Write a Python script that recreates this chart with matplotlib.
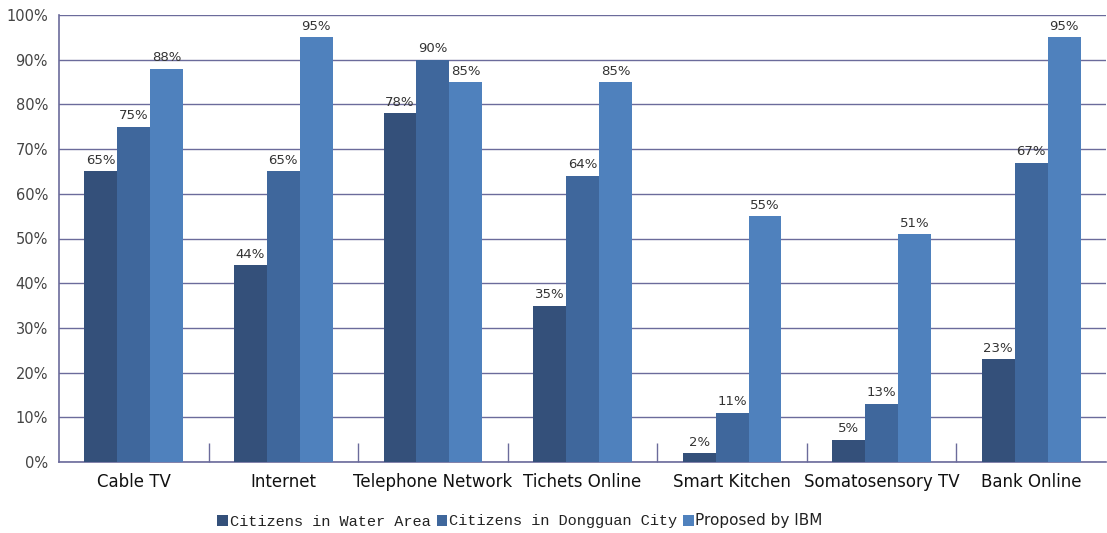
import matplotlib
matplotlib.use("Agg")
import matplotlib.pyplot as plt
import numpy as np

categories = ["Cable TV", "Internet", "Telephone Network", "Tichets Online",
              "Smart Kitchen", "Somatosensory TV", "Bank Online"]
series_names = ["Citizens in Water Area", "Citizens in Dongguan City", "Proposed by IBM"]
water = [65, 44, 78, 35, 2, 5, 23]
dongguan = [75, 65, 90, 64, 11, 13, 67]
ibm = [88, 95, 85, 85, 55, 51, 95]
yticks = [0, 10, 20, 30, 40, 50, 60, 70, 80, 90, 100]

colors = ["#34507a", "#3f679c", "#4f81bd"]
grid_c = "#6b6b9b"

fig = plt.figure(figsize=(11.07, 5.33), dpi=100)
ax = fig.add_axes([59/1107, 1 - 462/533, 1047/1107, (462 - 15)/533])

x = np.arange(len(categories))
w = 0.22
handles = []
for i, (vals, c) in enumerate(zip([water, dongguan, ibm], colors)):
    b = ax.bar(x + (i - 1) * w, vals, width=w, color=c, zorder=3, label=series_names[i])
    handles.append(b)
    for xi, v in zip(x + (i - 1) * w, vals):
        ax.text(xi, v + 1.0, f"{v}%", ha="center", va="bottom", fontsize=9.5,
                color="#333333", family="DejaVu Sans", zorder=4)

ax.set_xlim(-0.5, len(categories) - 0.5)
ax.set_ylim(0, 100)
ax.set_yticks(yticks)
ax.set_yticklabels([f"{t}%" for t in yticks], fontsize=10.5, color="#444444")
ax.yaxis.grid(True, color=grid_c, linewidth=1.0, zorder=0)
ax.set_axisbelow(True)
ax.tick_params(axis="y", length=0, pad=8)

# category separators on the x axis
ax.set_xticks(x[:-1] + 0.5, minor=False)
ax.set_xticklabels([])
ax.tick_params(axis="x", which="major", direction="in", length=14, color=grid_c, width=1)
for xi, lab in zip(x, categories):
    ax.text(xi, -2.5, lab, ha="center", va="top", fontsize=12, color="#111111",
            transform=ax.transData)

for s in ["top", "right"]:
    ax.spines[s].set_visible(False)
for s in ["left", "bottom"]:
    ax.spines[s].set_color(grid_c)
    ax.spines[s].set_linewidth(1.2)

leg = fig.legend(handles=handles, labels=series_names, loc="center",
                 bbox_to_anchor=(520/1107, 1 - 521/533), ncol=3, frameon=False,
                 handlelength=0.7, handleheight=0.7, handletextpad=0.1, columnspacing=0.4,
                 fontsize=11)
fams = ["Liberation Mono", "Liberation Mono", "DejaVu Sans"]
for t, f in zip(leg.get_texts(), fams):
    t.set_family(f)
    t.set_color("#222222")

fig.savefig("out.png", dpi=100)
